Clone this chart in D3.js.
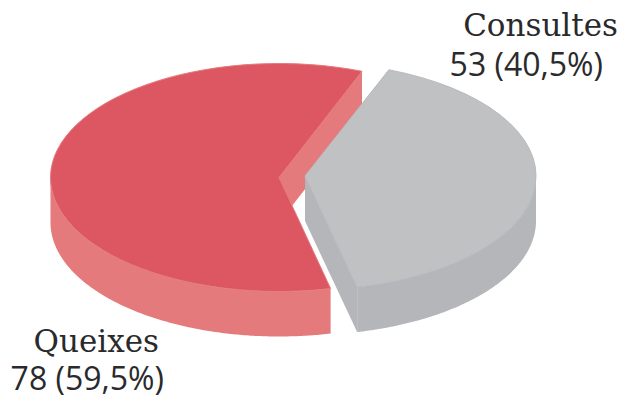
<!DOCTYPE html>
<html>
<head>
<meta charset="utf-8">
<script src="https://cdn.jsdelivr.net/npm/d3@7/dist/d3.min.js"></script>
<style>
html,body{margin:0;padding:0;background:#fff}
svg{display:block}
text{fill:#2a2a2c}
.name{font-family:"DejaVu Serif","Liberation Serif",serif;font-size:31px}
.count{font-family:"Open Sans",sans-serif;font-size:32px}
</style>
</head>
<body>
<svg id="chart" width="621" height="398"></svg>
<script>
// Complaints vs. enquiries, as an exploded 3D pie
const categories = ["Consultes", "Queixes"];
const counts = [53, 78];
const shares = ["40,5%", "59,5%"];

const width = 621, height = 398;
const topColors = ["#c0c1c3", "#dd5762"];
const wallColors = ["#b5b6ba", "#e57a7c"];
const rimColors = ["#b9babd", "#e57a7c"];
const centers = [{x: 305, y: 176}, {x: 279, y: 177.5}];
const radiiX = [231, 228.5];
const radiusY = 114, depth = 45;
const labelSpec = [
  {x: 618, y: 36, line2x: 603, line2y: 76},
  {x: 159, y: 351.5, line2x: 164, line2y: 389.5}
];

const svg = d3.select("#chart");
const pie = d3.pie().sort(null)
  .startAngle(21.3 * Math.PI / 180)
  .endAngle((21.3 + 360) * Math.PI / 180);
const arcs = pie(counts);

// Squash a clockwise-from-top pie angle onto the tilted disc
const px = (c, rx, a) => c.x + rx * Math.sin(a);
const py = (c, a, dz = 0) => c.y - radiusY * Math.cos(a) + dz;
const poly = d3.line();

function outerWall(c, rx, a0, a1) {
  // Only the near half of the rim (90° to 270°) can be seen
  const from = Math.max(a0, Math.PI / 2), to = Math.min(a1, 3 * Math.PI / 2);
  const steps = d3.range(from, to, 0.01).concat([to]);
  const pts = steps.map(a => [px(c, rx, a), py(c, a)])
    .concat(steps.slice().reverse().map(a => [px(c, rx, a), py(c, a, depth)]));
  return poly(pts) + "Z";
}
function cutWall(c, rx, a) {
  return poly([[c.x, c.y], [px(c, rx, a), py(c, a)], [px(c, rx, a), py(c, a, depth)], [c.x, c.y + depth]]) + "Z";
}

const arcGen = d3.arc().innerRadius(0).outerRadius(radiusY);

// Red slice first, so the grey slice overlaps its back cut wall
[1, 0].forEach(i => {
  const d = arcs[i], c = centers[i], rx = radiiX[i];
  const g = svg.append("g").attr("class", "slice");
  g.append("path").attr("d", cutWall(c, rx, d.endAngle)).attr("fill", wallColors[i]);
  if (i === 0) {
    g.append("path").attr("d", cutWall(c, rx, d.startAngle)).attr("fill", wallColors[i]);
  }
  g.append("path").attr("d", outerWall(c, rx, d.startAngle, d.endAngle)).attr("fill", wallColors[i]);
  g.append("path")
    .attr("d", arcGen(d))
    .attr("transform", `translate(${c.x},${c.y}) scale(${rx / radiusY},1)`)
    .attr("fill", topColors[i])
    .attr("stroke", rimColors[i])
    .attr("stroke-width", 1)
    .attr("vector-effect", "non-scaling-stroke");
});

// Two-line labels: slab name above, count and share below
categories.forEach((name, i) => {
  const s = labelSpec[i];
  svg.append("text").attr("class", "name").attr("x", s.x).attr("y", s.y)
    .attr("text-anchor", "end").text(name);
  svg.append("text").attr("class", "count").attr("x", s.line2x).attr("y", s.line2y)
    .attr("text-anchor", "end")
    .text(`${counts[i]} (${shares[i]})`);
});
</script>
</body>
</html>
